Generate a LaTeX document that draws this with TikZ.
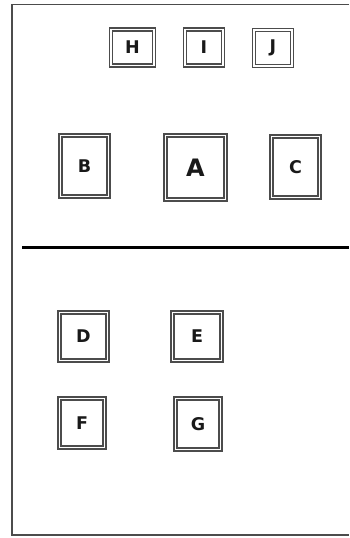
\documentclass[tikz,border=0pt]{standalone}
\usepackage{fontspec}
\setmainfont{DejaVu Sans}
\begin{document}
\begin{tikzpicture}[x=1pt,y=-1pt,
  box/.style={draw=black!70, double=white, double distance=1.4pt, line width=1.5pt,
    inner sep=0pt, font=\bfseries\fontsize{17.5}{17.5}\selectfont, text=black!90},
  bigbox/.style={box, font=\bfseries\fontsize{24}{24}\selectfont}]
\useasboundingbox (0,0) rectangle (349,538);
\draw[line width=1.5pt, black!70] (349,4.5) -- (12,4.5) -- (12,535) -- (349,535);
\draw[line width=3pt, black] (22,247) -- (349,247);
\node[box, minimum width=43pt, minimum height=36pt] (H) at (132.5,47.5) {H};
\node[box, minimum width=38pt, minimum height=36pt] (I) at (204,47.5) {I};
\node[box, minimum width=38pt, minimum height=36pt] (J) at (273,48) {J};
\node[box, minimum width=48pt, minimum height=61pt] (B) at (84.5,166) {B};
\node[bigbox, minimum width=60pt, minimum height=64pt] (A) at (195.5,167.5) {A};
\node[box, minimum width=48pt, minimum height=61pt] (C) at (295.5,167) {C};
\node[box, minimum width=48pt, minimum height=48pt] (D) at (83.5,336.5) {D};
\node[box, minimum width=49pt, minimum height=48pt] (E) at (197,336.5) {E};
\node[box, minimum width=45pt, minimum height=49pt] (F) at (82,423) {F};
\node[box, minimum width=45pt, minimum height=51pt] (G) at (198,424) {G};
\end{tikzpicture}
\end{document}
